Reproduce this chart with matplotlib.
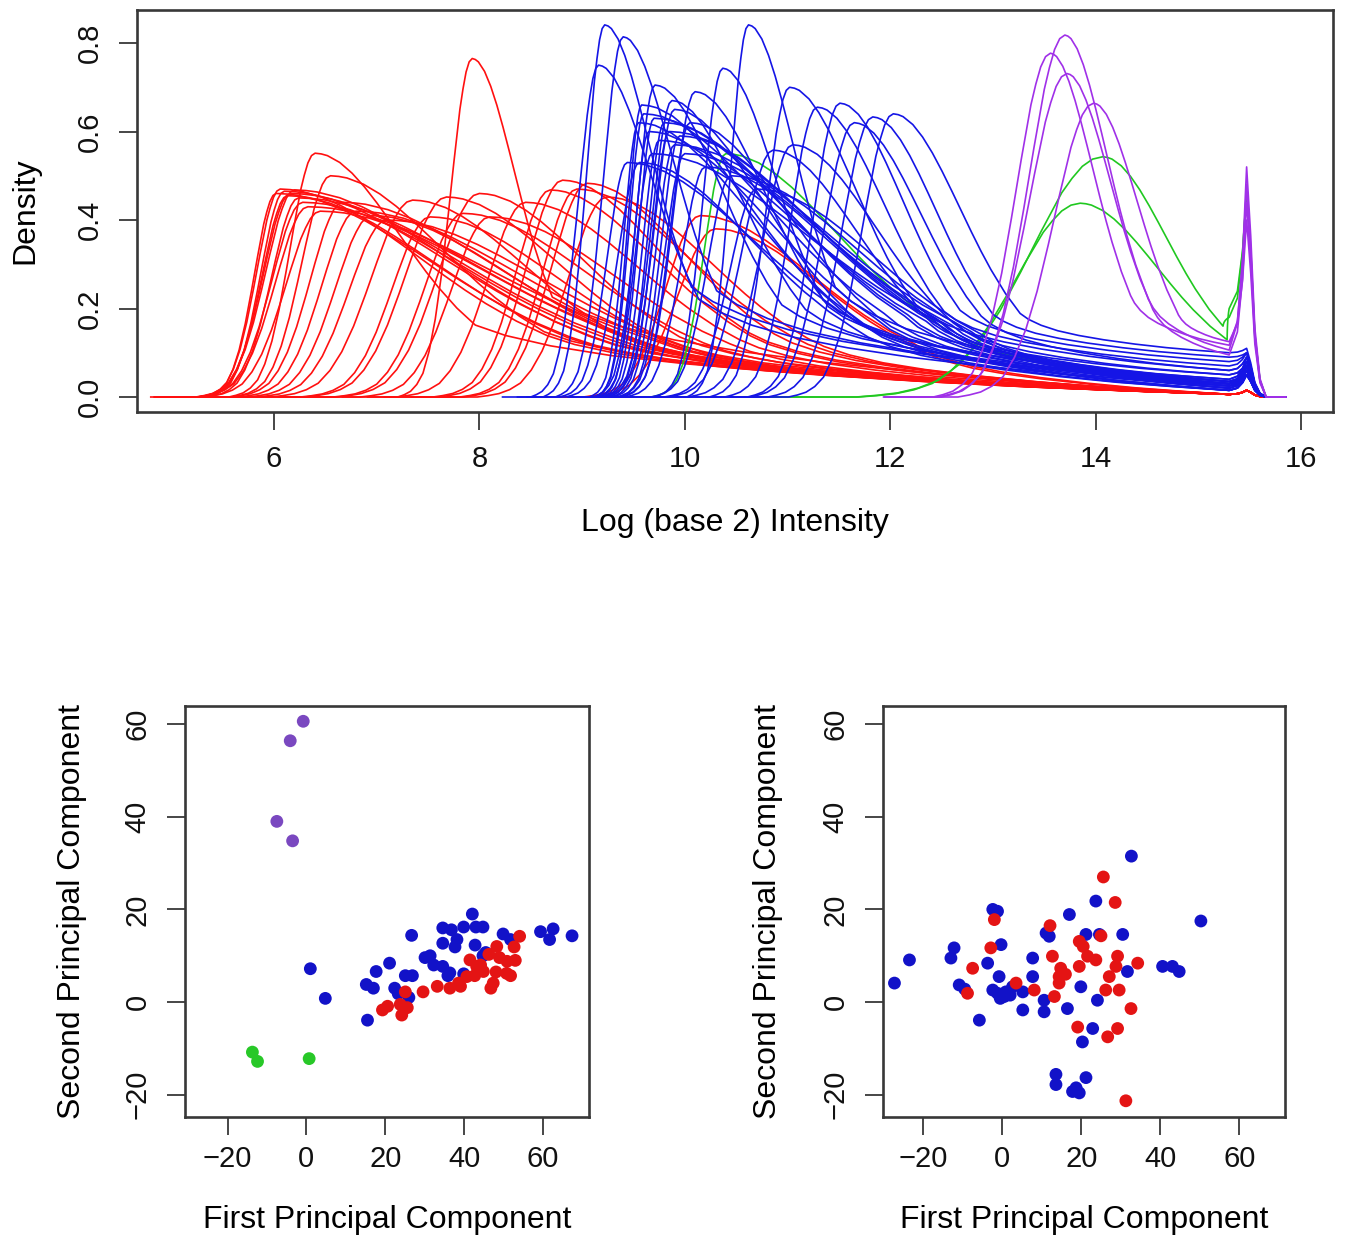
import numpy as np
import matplotlib
matplotlib.use("Agg")
import matplotlib.pyplot as plt

# ---------------- densidades (panel superior) ----------------
# forma base de una curva (subida, lobulo derecho, cola, pico final)
L_U = np.array([-1.7, -1.2, -1.1, -1.0, -0.9, -0.8, -0.7, -0.6, -0.5, -0.4, -0.3, -0.2,
                -0.15, -0.1, -0.05, 0.0])
L_V = np.array([0.0, 0.0, 0.007, 0.017, 0.037, 0.07, 0.135, 0.23, 0.36, 0.52, 0.69, 0.85,
                0.91, 0.96, 0.99, 1.0])
R_U = np.array([0.0, 0.05, 0.1, 0.2, 0.3, 0.4, 0.5, 0.6, 0.7, 0.8, 0.9, 1.0, 1.15, 1.3])
R_V = np.array([1.0, 0.997, 0.99, 0.962, 0.918, 0.862, 0.797, 0.727, 0.655, 0.583, 0.514,
                0.45, 0.365, 0.295])
T_S = np.array([0.0, 0.04, 0.1, 0.18, 0.28, 0.4, 0.55, 0.7, 0.85, 1.0])
T_T = np.array([1.0, 0.85, 0.7, 0.56, 0.44, 0.33, 0.22, 0.13, 0.06, 0.0])
S_X = np.array([15.3, 15.38, 15.43, 15.47, 15.51, 15.55, 15.6, 15.66, 15.85])
S_A = np.array([1.0, 0.85, 0.5, 0.0, 0.0, 0.0, 0.0, 0.0, 0.0])
S_B = np.array([0.0, 0.15, 0.5, 1.0, 0.7, 0.3, 0.08, 0.0, 0.0])

red_peak_x = [6.02, 6.06, 6.10, 6.13, 6.16, 6.20, 6.24, 6.28, 6.33, 6.40, 6.45, 6.55, 6.67, 6.80,
              6.95, 7.10, 7.35, 7.52, 7.68, 7.84, 7.93, 8.00, 8.10, 8.45, 8.69, 8.81, 8.95, 9.05,
              9.24, 10.15, 10.30]
red_peak_y = [0.460, 0.470, 0.465, 0.455, 0.460, 0.468, 0.450, 0.440, 0.430, 0.551, 0.420, 0.500,
              0.440, 0.420, 0.410, 0.400, 0.445, 0.407, 0.452, 0.415, 0.765, 0.460, 0.407, 0.440,
              0.468, 0.490, 0.470, 0.483, 0.452, 0.410, 0.380]
red_rise = [0.60, 0.65, 0.65, 0.70, 0.75, 0.80, 0.75, 0.85, 0.90, 0.70, 0.95, 0.80, 0.90, 0.95,
            1.00, 1.05, 1.15, 1.05, 1.15, 1.05, 0.60, 1.15, 1.05, 1.05, 0.95, 1.00, 0.95, 1.00,
            1.05, 0.95, 1.05]
red_fall = [2.2, 2.0, 2.3, 2.1, 2.4, 2.2, 2.5, 2.3, 2.6, 1.2, 2.4, 1.6, 2.2, 2.3,
            2.0, 2.2, 1.6, 1.8, 1.6, 1.8, 0.6, 1.5, 1.8, 1.6, 1.5, 1.4, 1.6, 1.4,
            1.5, 1.6, 1.5]
red_trough = 0.006
red_spike = 0.015

blue_peak_x = [9.22, 9.40, 9.16, 10.62, 10.37, 9.71, 9.875, 10.10, 11.02, 11.29, 11.51, 11.83,
               12.03, 11.65, 10.86, 11.05, 9.55, 9.60, 9.65, 9.70, 9.75, 9.80, 9.85, 9.90, 9.95,
               10.00, 9.58, 9.68, 9.44, 9.56, 10.20, 10.45, 10.70, 9.90, 10.05]
blue_peak_y = [0.841, 0.814, 0.750, 0.841, 0.743, 0.705, 0.670, 0.690, 0.700, 0.655, 0.664, 0.633,
               0.640, 0.620, 0.558, 0.570, 0.620, 0.640, 0.600, 0.630, 0.580, 0.620, 0.600, 0.570,
               0.590, 0.550, 0.660, 0.550, 0.530, 0.530, 0.520, 0.500, 0.470, 0.650, 0.620]
blue_rise = [0.50, 0.55, 0.55, 0.50, 0.55, 0.50, 0.55, 0.60, 0.65, 0.75, 0.75, 0.85,
             0.85, 0.85, 0.85, 0.85, 0.40, 0.40, 0.40, 0.42, 0.45, 0.45, 0.47, 0.50, 0.50,
             0.55, 0.38, 0.45, 0.55, 0.60, 0.65, 0.65, 0.75, 0.55, 0.55]
blue_fall = [0.65, 0.70, 0.75, 0.65, 0.75, 0.95, 1.00, 1.00, 0.95, 0.95, 0.90, 0.90,
             0.95, 0.95, 1.20, 1.20, 1.60, 1.80, 1.70, 1.90, 2.00, 1.80, 2.00, 2.10, 1.90,
             2.00, 1.50, 2.20, 1.80, 1.60, 1.80, 1.80, 1.70, 1.30, 1.40]
blue_trough = [0.03, 0.03, 0.025, 0.035, 0.035, 0.035, 0.03, 0.04, 0.06, 0.07, 0.08, 0.09,
               0.10, 0.06, 0.05, 0.05, 0.015, 0.02, 0.015, 0.025, 0.025, 0.02, 0.025, 0.03, 0.02,
               0.03, 0.015, 0.03, 0.015, 0.015, 0.03, 0.035, 0.04, 0.02, 0.025]
blue_spike = [0.06, 0.06, 0.05, 0.07, 0.07, 0.07, 0.06, 0.08, 0.09, 0.10, 0.10, 0.10,
              0.11, 0.09, 0.08, 0.08, 0.05, 0.06, 0.05, 0.06, 0.07, 0.06, 0.06, 0.07, 0.06,
              0.07, 0.05, 0.07, 0.05, 0.05, 0.08, 0.08, 0.09, 0.06, 0.06]

purple_peak_x = [13.70, 13.56, 13.72, 13.98]
purple_peak_y = [0.818, 0.777, 0.731, 0.664]
purple_rise = [1.0, 0.95, 1.05, 1.1]
purple_fall = [0.6, 0.6, 0.62, 0.62]
purple_trough = [0.106, 0.117, 0.095, 0.125]
purple_spike = [0.52, 0.48, 0.44, 0.40]

green_peak_x = [10.40, 14.07, 13.85]
green_peak_y = [0.550, 0.543, 0.438]
green_rise = [0.6, 2.0, 1.8]
green_fall = [1.6, 0.9, 1.1]
green_trough = [0.03, 0.18, 0.20]
green_spike = [0.08, 0.47, 0.46]

# ---------------- componentes principales ----------------
pca1_blue_x = [15.2, 17.0, 15.5, 17.7, 21.1, 22.4, 23.3, 25.1, 26.9, 26.0, 26.7, 30.1, 31.4, 32.3,
               34.6, 35.9, 34.6, 36.8, 34.6, 37.7, 38.2, 39.9, 42.1, 43.0, 44.8, 42.8, 45.5, 39.9,
               49.9, 51.8, 59.4, 62.6, 61.7, 67.4, 44.8, 36.4, 1.0, 4.8]
pca1_blue_y = [3.8, 3.0, -3.9, 6.6, 8.4, 3.0, 1.8, 5.7, 5.7, 1.0, 14.4, 9.6, 10.0, 8.0,
               7.7, 5.7, 16.0, 15.6, 12.7, 11.9, 13.5, 16.2, 19.0, 16.2, 16.2, 12.3, 10.7, 6.1,
               14.7, 13.5, 15.2, 15.8, 13.5, 14.3, 10.0, 6.3, 7.2, 0.8]
pca1_red_x = [19.3, 20.6, 24.2, 25.6, 25.1, 29.6, 33.2, 36.4, 39.1, 42.7, 46.3, 48.1, 46.8, 49.0,
              50.9, 52.7, 54.1, 51.8, 44.2, 38.6, 40.7, 47.4, 50.8, 43.2, 41.5, 44.9, 23.8, 48.3, 53.0]
pca1_red_y = [-1.7, -0.9, -2.8, -1.2, 2.2, 2.2, 3.4, 3.0, 3.4, 5.7, 10.3, 6.5, 3.0, 9.6,
              8.8, 11.9, 14.2, 5.7, 8.0, 4.1, 5.5, 4.1, 6.2, 7.7, 9.1, 6.6, -0.5, 12.0, 9.0]
pca1_purple_x = [-0.8, -4.1, -7.5, -3.5]
pca1_purple_y = [60.6, 56.4, 39.0, 34.8]
pca1_green_x = [-13.7, -12.4, 0.7]
pca1_green_y = [-10.8, -12.8, -12.2]

pca2_blue_x = [32.7, 50.3, 23.7, 17.0, 11.1, 11.9, 21.2, 24.6, 30.5, -2.4, -1.2, -0.3, -12.2, -13.0,
               -23.5, -27.3, -10.9, -9.5, -3.7, -5.8, -0.8, -1.2, 0.5, 2.6, 5.2, 5.2, 7.7, 7.7,
               10.6, 10.6, 16.5, 19.9, 24.1, 31.7, 22.9, 20.3, 13.6, 13.6, 17.8, 19.5, 21.2, 18.7,
               40.6, 43.1, 44.8, -2.4, 0.9, -0.5, 2.0]
pca2_blue_y = [31.5, 17.5, 21.8, 18.9, 14.9, 14.2, 14.6, 14.6, 14.6, 20.0, 19.6, 12.4, 11.7, 9.5,
               9.1, 4.1, 3.7, 2.8, 8.4, -3.9, 5.5, 1.9, 1.2, 3.3, 2.2, -1.7, 9.5, 5.5,
               0.4, -2.1, -1.4, 3.3, 0.4, 6.6, -5.7, -8.6, -15.6, -17.8, -19.3, -19.6, -16.3, -18.5,
               7.7, 7.7, 6.6, 2.6, 2.2, 0.8, 1.5]
pca2_red_x = [25.6, 28.6, 12.1, 25.0, 19.5, 12.7, 14.8, 14.4, 14.4, 21.6, 23.7, 19.5, 29.2, 28.8,
              34.3, 27.1, 26.2, 29.6, 13.2, 8.1, 32.6, 19.1, 29.2, 26.7, 31.3, -2.9, -7.5, -8.8,
              -2.0, 3.5, 16.0, 20.5]
pca2_red_y = [27.0, 21.5, 16.5, 14.3, 13.1, 9.9, 7.3, 5.5, 4.1, 9.9, 9.1, 7.7, 9.9, 7.7,
              8.4, 5.5, 2.6, 2.6, 1.2, 2.6, -1.4, -5.4, -5.7, -7.5, -21.3, 11.7, 7.3, 1.9,
              17.8, 4.1, 6.0, 12.0]

RED, BLUE, PURPLE, GREEN = '#FF1010', '#1515E6', '#A030E8', '#20C820'
FRAME = '#383838'


def dibujar_densidad(ax, px, py, rise, fall, trough, spike, color):
    xl = px + rise * L_U
    yl = py * L_V
    xr = px + fall * R_U
    yr = py * R_V
    keep = xr < S_X[0] - 0.02
    xr, yr = xr[keep], yr[keep]
    x0, y0 = xr[-1], yr[-1]
    xt = x0 + (S_X[0] - x0) * T_S
    yt = trough + (y0 - trough) * T_T
    ys = trough * S_A + spike * S_B
    x = np.concatenate([xl, xr[1:], xt[1:], S_X[1:]])
    y = np.concatenate([yl, yr[1:], yt[1:], ys[1:]])
    ax.plot(x, y, color=color, lw=1.2, solid_joinstyle='round')


def estilo_ejes(ax, xpad):
    for sp in ax.spines.values():
        sp.set_linewidth(1.9)
        sp.set_color(FRAME)
    ax.tick_params(direction='out', length=13, width=1.3, color=FRAME,
                   labelsize=21, labelcolor='#111111')
    ax.tick_params(axis='x', pad=xpad)
    ax.tick_params(axis='y', labelrotation=90, pad=11)
    for lbl in ax.get_yticklabels():
        lbl.set_va('center')


plt.rcParams['font.family'] = ['Liberation Sans', 'DejaVu Sans']
fig = plt.figure(figsize=(13.45, 12.41), dpi=100)
W, H = 1345.0, 1241.0

# ---- panel superior ----
ax = fig.add_axes([137 / W, 1 - 412 / H, (1333 - 137) / W, (412 - 10) / H])
for i in range(len(red_peak_x)):
    dibujar_densidad(ax, red_peak_x[i], red_peak_y[i], red_rise[i], red_fall[i],
                     red_trough, red_spike, RED)
for i in range(len(green_peak_x)):
    dibujar_densidad(ax, green_peak_x[i], green_peak_y[i], green_rise[i], green_fall[i],
                     green_trough[i], green_spike[i], GREEN)
for i in range(len(blue_peak_x)):
    dibujar_densidad(ax, blue_peak_x[i], blue_peak_y[i], blue_rise[i], blue_fall[i],
                     blue_trough[i], blue_spike[i], BLUE)
for i in range(len(purple_peak_x)):
    dibujar_densidad(ax, purple_peak_x[i], purple_peak_y[i], purple_rise[i], purple_fall[i],
                     purple_trough[i], purple_spike[i], PURPLE)
ax.set_xlim(4.666, 16.311)
ax.set_ylim(-0.0339, 0.8746)
ax.set_xticks([6, 8, 10, 12, 14, 16])
ax.set_yticks([0.0, 0.2, 0.4, 0.6, 0.8])
ax.set_yticklabels(['0.0', '0.2', '0.4', '0.6', '0.8'])
estilo_ejes(ax, 11)
ax.set_xlabel('Log (base 2) Intensity', fontsize=23, va='center')
ax.set_ylabel('Density', fontsize=23, va='center')
ax.xaxis.set_label_coords(0.5, -0.276)
ax.yaxis.set_label_coords(-0.0936, 0.5)

# ---- componentes principales ----
paneles = [
    ([185, 589], (-30.8, 71.7), -0.2797,
     [(pca1_blue_x, pca1_blue_y, '#1212C8'), (pca1_red_x, pca1_red_y, '#E41414'),
      (pca1_purple_x, pca1_purple_y, '#7A48C0'), (pca1_green_x, pca1_green_y, '#28C828')]),
    ([883, 1285], (-30.2, 71.6), -0.286,
     [(pca2_blue_x, pca2_blue_y, '#1212C8'), (pca2_red_x, pca2_red_y, '#E41414')]),
]
for (x0, x1), xlim, ylab_x, grupos in paneles:
    axp = fig.add_axes([x0 / W, 1 - 1117 / H, (x1 - x0) / W, (1117 - 706) / H])
    for xs, ys, col in grupos:
        axp.scatter(xs, ys, s=85, color=col, edgecolors='none', zorder=3)
    axp.set_xlim(*xlim)
    axp.set_ylim(-24.8, 63.9)
    axp.set_xticks([-20, 0, 20, 40, 60])
    axp.set_yticks([-20, 0, 20, 40, 60])
    estilo_ejes(axp, 7)
    axp.set_xlabel('First Principal Component', fontsize=23, va='center')
    axp.set_ylabel('Second Principal Component', fontsize=23, va='center')
    axp.xaxis.set_label_coords(0.5, -0.2506)
    axp.yaxis.set_label_coords(ylab_x, 0.5)

fig.savefig('out.png', dpi=100, facecolor='white')
plt.close(fig)
